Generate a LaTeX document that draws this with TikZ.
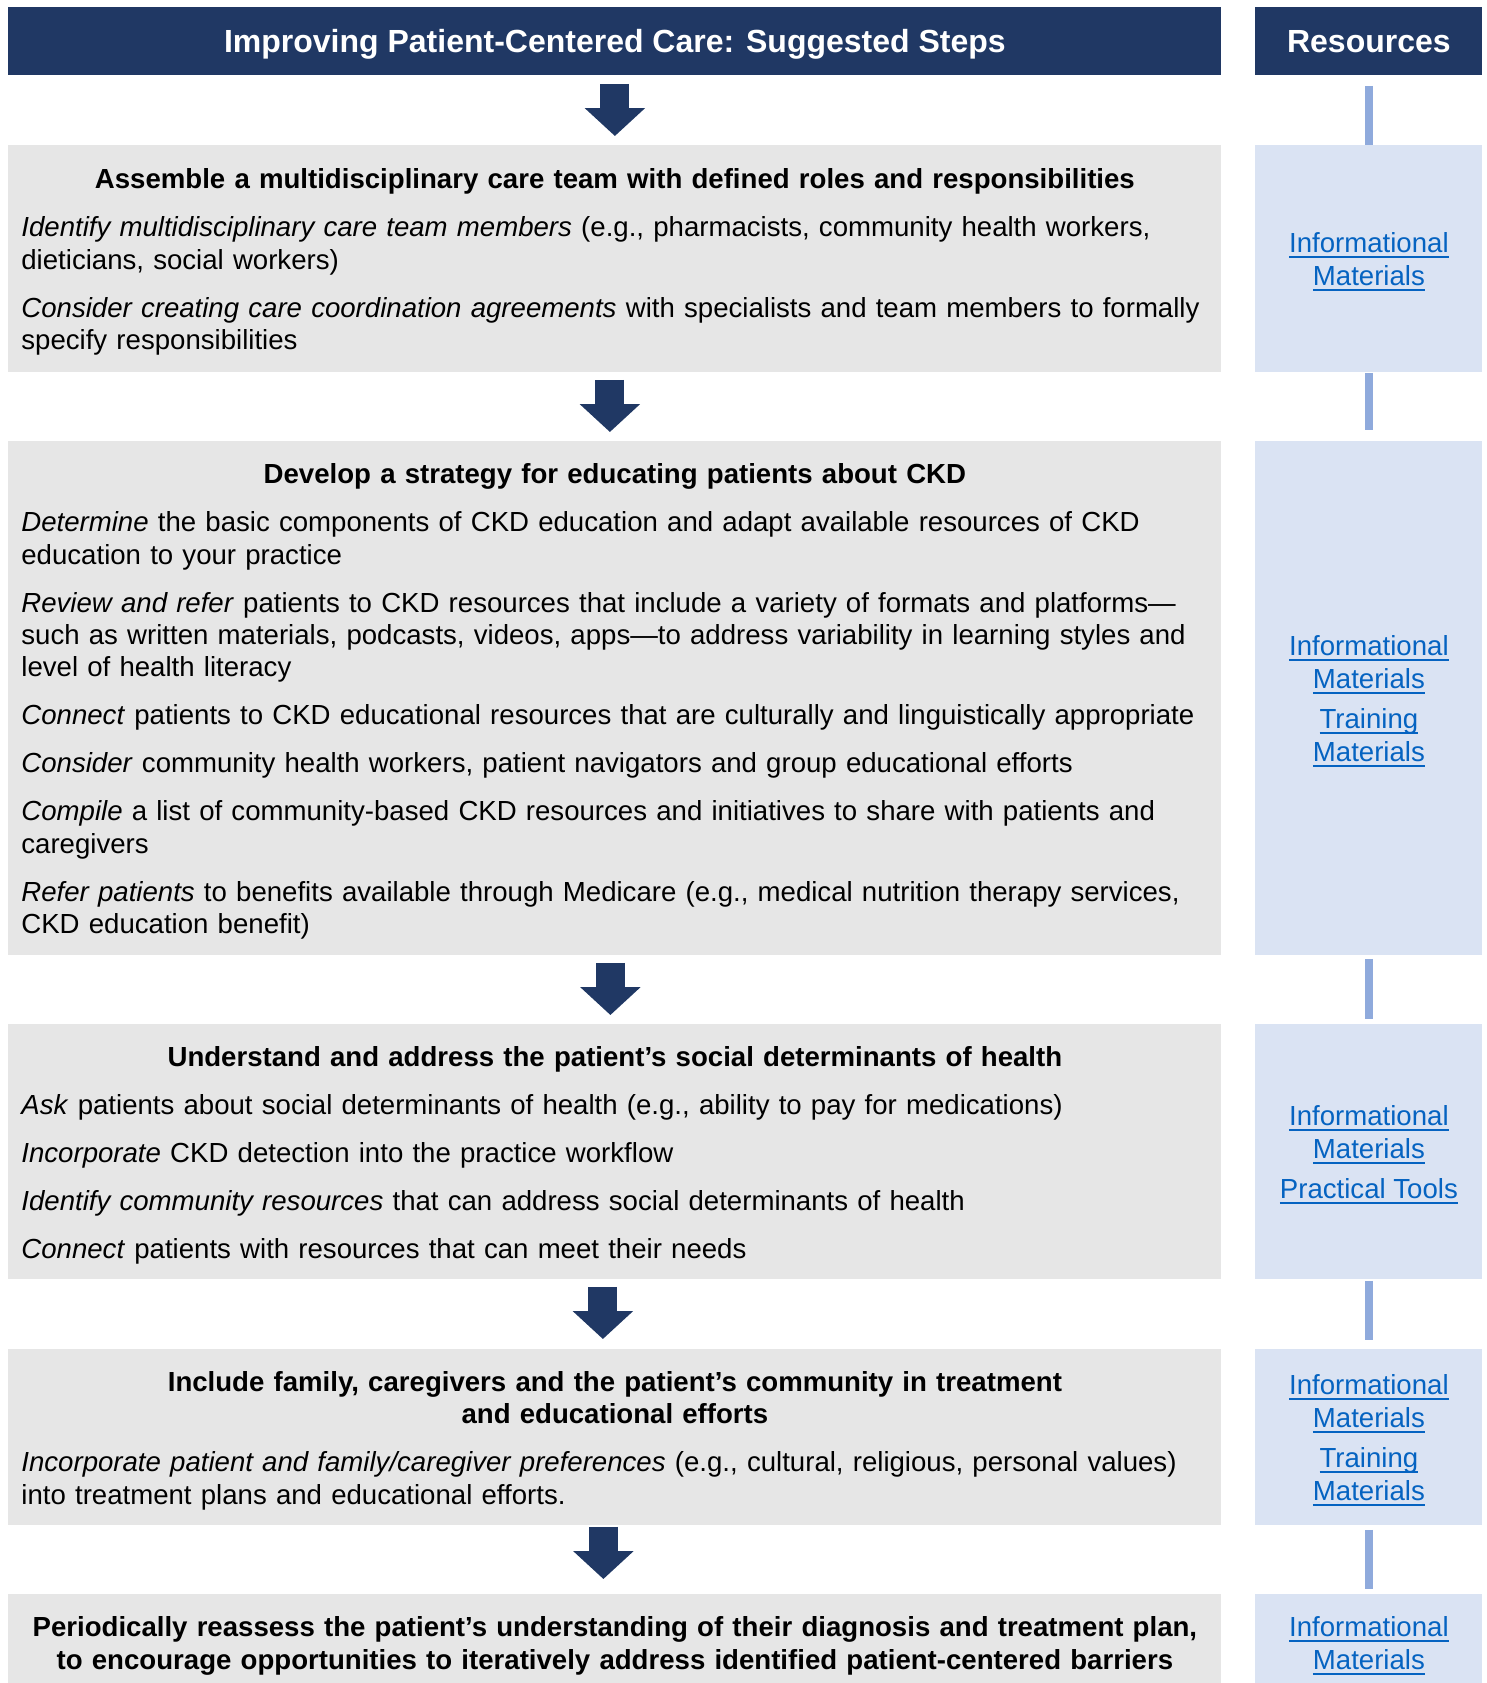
\documentclass[tikz,border=0pt]{standalone}
\usepackage{fontspec}
\setmainfont{Liberation Sans}
\usetikzlibrary{arrows.meta}
\definecolor{navy}{RGB}{32,56,100}
\definecolor{stepgray}{RGB}{230,230,230}
\definecolor{resblue}{RGB}{218,227,243}
\definecolor{resline}{RGB}{143,170,220}
\definecolor{linkblue}{RGB}{5,99,193}
\newcommand{\stephead}[1]{{\centering\bfseries #1\par}}
\newcommand{\reslink}[1]{\setbox0\hbox{#1}\rlap{\rule[-2.6pt]{\wd0}{0.85pt}}\box0}
\begin{document}
\begin{tikzpicture}[x=0.5pt,y=-0.5pt,
    title/.style={fill=navy,text=white,font=\fontsize{16}{19}\selectfont\bfseries,inner sep=0pt,anchor=north west,minimum height=34pt,text height=15pt,text depth=3.5pt},
    stepbox/.style={fill=stepgray,anchor=north west,inner xsep=6.5pt,inner ysep=0pt,text width=593.5pt,text height=13.2pt,align=left,
        font=\fontsize{13.8}{16.2}\selectfont\setlength{\parskip}{7.8pt}\setlength{\parindent}{0pt}},
    resbox/.style={fill=resblue,anchor=north west,inner sep=0pt,minimum width=113.5pt,text depth=0pt,align=center,text=linkblue,font=\fontsize{13.8}{16.5}\selectfont},
    flow/.style={navy,line width=14.5pt,-{Triangle[width=29.5pt,length=14pt]},shorten <=3.5pt,shorten >=4.5pt},
    link/.style={resline,line width=4pt}]
    \useasboundingbox (0,0) rectangle (1487,1683);
    \node[title,minimum width=606.5pt] (hd) at (8,7) {Improving Patient-Centered Care: Suggested Steps};
    \node[title,minimum width=113.5pt] (rhd) at (1255,7) {Resources};
    \node[stepbox,minimum height=113.5pt] (b1) at (8,145) {\stephead{Assemble a multidisciplinary care team with defined roles and responsibilities}
        \textit{Identify multidisciplinary care team members} (e.g., pharmacists, community health workers,\\dieticians, social workers)\par
        \textit{Consider creating care coordination agreements} with specialists and team members to formally\\specify responsibilities};
    \node[stepbox,minimum height=257pt] (b2) at (8,441) {\stephead{Develop a strategy for educating patients about CKD}
        \textit{Determine} the basic components of CKD education and adapt available resources of CKD\\education to your practice\par
        \textit{Review and refer} patients to CKD resources that include a variety of formats and platforms—\\such as written materials, podcasts, videos, apps—to address variability in learning styles and\\level of health literacy\par
        \textit{Connect} patients to CKD educational resources that are culturally and linguistically appropriate\par
        \textit{Consider} community health workers, patient navigators and group educational efforts\par
        \textit{Compile} a list of community-based CKD resources and initiatives to share with patients and\\caregivers\par
        \textit{Refer patients} to benefits available through Medicare (e.g., medical nutrition therapy services,\\CKD education benefit)};
    \node[stepbox,minimum height=127.5pt] (b3) at (8,1024) {\stephead{Understand and address the patient’s social determinants of health}
        \textit{Ask} patients about social determinants of health (e.g., ability to pay for medications)\par
        \textit{Incorporate} CKD detection into the practice workflow\par
        \textit{Identify community resources} that can address social determinants of health\par
        \textit{Connect} patients with resources that can meet their needs};
    \node[stepbox,minimum height=88pt] (b4) at (8,1349) {\stephead{Include family, caregivers and the patient’s community in treatment\\and educational efforts}
        \textit{Incorporate patient and family/caregiver preferences} (e.g., cultural, religious, personal values)\\into treatment plans and educational efforts.};
    \node[stepbox,minimum height=48.5pt] (b5) at (8,1594) {\stephead{Periodically reassess the patient’s understanding of their diagnosis and treatment plan,\\to encourage opportunities to iteratively address identified patient-centered barriers}};
    \node[resbox,minimum height=113.5pt] (r1) at (1255,145) {\reslink{Informational}\\\reslink{Materials}};
    \node[resbox,minimum height=257pt] (r2) at (1255,441) {\reslink{Informational}\\\reslink{Materials}\\[3.5pt]\reslink{Training}\\\reslink{Materials}};
    \node[resbox,minimum height=127.5pt] (r3) at (1255,1024) {\reslink{Informational}\\\reslink{Materials}\\[3.5pt]\reslink{Practical Tools}};
    \node[resbox,minimum height=88pt] (r4) at (1255,1349) {\reslink{Informational}\\\reslink{Materials}\\[3.5pt]\reslink{Training}\\\reslink{Materials}};
    \node[resbox,minimum height=48.5pt] (r5) at (1255,1594) {\reslink{Informational}\\\reslink{Materials}};
    \draw[flow,shorten <=4pt] (hd.south) -- (b1.north);
    \draw[flow] ([xshift=-2.5pt]b1.south) -- ([xshift=-2.5pt]b2.north);
    \draw[flow] ([xshift=-2.25pt]b2.south) -- ([xshift=-2.25pt]b3.north);
    \draw[flow,shorten >=5pt] ([xshift=-6pt]b3.south) -- ([xshift=-6pt]b4.north);
    \draw[flow,shorten <=0.5pt,shorten >=7.5pt] ([xshift=-5.75pt]b4.south) -- ([xshift=-5.75pt]b5.north);
    \draw[link,shorten <=5pt] (rhd.south) -- (r1.north);
    \draw[link,shorten >=5.5pt] (r1.south) -- (r2.north);
    \draw[link,shorten <=1.5pt,shorten >=2.5pt] (r2.south) -- (r3.north);
    \draw[link,shorten <=0.5pt,shorten >=4.5pt] (r3.south) -- (r4.north);
    \draw[link,shorten <=2pt,shorten >=2.5pt] (r4.south) -- (r5.north);
\end{tikzpicture}
\end{document}
